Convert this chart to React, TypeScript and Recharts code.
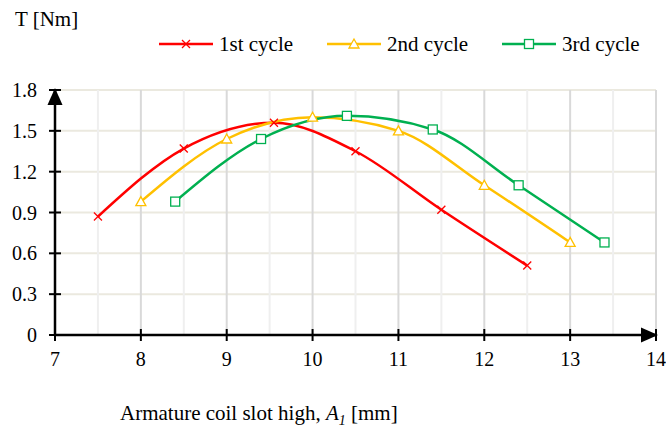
import React from 'react';
import {
  LineChart,
  Line,
  XAxis,
  YAxis,
  CartesianGrid,
  ReferenceLine,
  Label,
} from 'recharts';

const xTicks = [7, 8, 9, 10, 11, 12, 13, 14];
const xMinor = [7.5, 8.5, 9.5, 10.5, 11.5, 12.5, 13.5];
const yTicks = [0, 0.3, 0.6, 0.9, 1.2, 1.5, 1.8];

const cycle1X = [7.5, 8.5, 9.55, 10.5, 11.5, 12.5];
const cycle1T = [0.87, 1.37, 1.56, 1.35, 0.92, 0.51];
const cycle2X = [8, 9, 10, 11, 12, 13];
const cycle2T = [0.98, 1.44, 1.6, 1.5, 1.1, 0.68];
const cycle3X = [8.4, 9.4, 10.4, 11.4, 12.4, 13.4];
const cycle3T = [0.98, 1.44, 1.61, 1.51, 1.1, 0.68];

const toRows = (xs: number[], ys: number[]) => xs.map((x, i) => ({ x, t: ys[i] }));

const RED = '#ff0000';
const YELLOW = '#ffc000';
const GREEN = '#00b050';
const FONT = "'Liberation Serif', Tinos, 'DejaVu Serif', 'Noto Serif', serif";

const TICK_SIZE = 5;
const TICK_MARGIN = 4;

const Cross = ({ cx, cy }: any) => (
  <g>
    <line x1={cx - 4} y1={cy - 4} x2={cx + 4} y2={cy + 4} stroke={RED} strokeWidth={1.3} />
    <line x1={cx - 4} y1={cy + 4} x2={cx + 4} y2={cy - 4} stroke={RED} strokeWidth={1.3} />
  </g>
);
const Tri = ({ cx, cy }: any) => (
  <polygon
    points={`${cx},${cy - 5} ${cx - 5},${cy + 4} ${cx + 5},${cy + 4}`}
    fill="#fff"
    stroke={YELLOW}
    strokeWidth={1.3}
  />
);
const Sq = ({ cx, cy }: any) => (
  <rect x={cx - 4.5} y={cy - 4.5} width={9} height={9} fill="#fff" stroke={GREEN} strokeWidth={1.3} />
);

const series = [
  { name: '1st cycle', color: RED, data: toRows(cycle1X, cycle1T), Marker: Cross },
  { name: '2nd cycle', color: YELLOW, data: toRows(cycle2X, cycle2T), Marker: Tri },
  { name: '3rd cycle', color: GREEN, data: toRows(cycle3X, cycle3T), Marker: Sq },
];

const YTick = ({ x, y, payload }: any) => {
  const ax = x + TICK_SIZE + TICK_MARGIN;
  return (
    <g>
      <line x1={ax - 6} x2={ax + 6} y1={y} y2={y} stroke="#000" strokeWidth={2} />
      <text x={ax - 18} y={y} dy="0.35em" textAnchor="end" fontSize={20} style={{ fontFamily: FONT }} fill="#000">
        {payload.value}
      </text>
    </g>
  );
};

const XTick = ({ x, y, payload }: any) => {
  const ay = y - TICK_SIZE - TICK_MARGIN;
  return (
    <g>
      <line x1={x} x2={x} y1={ay - 6} y2={ay + 6} stroke="#000" strokeWidth={2} />
      <text x={x} y={ay + 24} dy="0.35em" textAnchor="middle" fontSize={20} style={{ fontFamily: FONT }} fill="#000">
        {payload.value}
      </text>
    </g>
  );
};

const YArrow = ({ viewBox }: any) => {
  const tx = viewBox.x + viewBox.width;
  const ty = viewBox.y - 2;
  return <polygon points={`${tx},${ty} ${tx - 7.5},${ty + 17} ${tx + 7.5},${ty + 17}`} fill="#000" />;
};

const XArrow = ({ viewBox }: any) => {
  const tx = viewBox.x + viewBox.width + 2;
  const ty = viewBox.y;
  return <polygon points={`${tx},${ty} ${tx - 17},${ty - 7.5} ${tx - 17},${ty + 7.5}`} fill="#000" />;
};

const ChartLegend = () => (
  <div style={{ position: 'absolute', left: 159, top: 32, display: 'flex', fontSize: 21, lineHeight: '24px', whiteSpace: 'nowrap', width: 507 }}>
    {series.map((s) => (
      <div key={s.name} style={{ display: 'flex', alignItems: 'center', marginRight: 34, flexShrink: 0 }}>
        <svg width={54} height={14} style={{ marginRight: 6 }}>
          <line x1={0} x2={54} y1={7} y2={7} stroke={s.color} strokeWidth={2.5} />
          <s.Marker cx={27} cy={7} />
        </svg>
        <span>{s.name}</span>
      </div>
    ))}
  </div>
);

export default function App() {
  return (
    <div style={{ position: 'absolute', left: 0, top: 0, width: 666, height: 430, background: '#fff', fontFamily: FONT, color: '#000' }}>
      <LineChart width={666} height={430} margin={{ top: 90, right: 10, bottom: 65, left: 0 }}>
        <CartesianGrid vertical={false} stroke="#ebe9df" strokeWidth={2} />
        {xMinor.map((v) => (
          <ReferenceLine key={'m' + v} x={v} stroke="#efefef" strokeWidth={2} />
        ))}
        {xTicks.slice(1).map((v) => (
          <ReferenceLine key={'M' + v} x={v} stroke="#d9d9d9" strokeWidth={2} />
        ))}
        <XAxis
          type="number"
          dataKey="x"
          domain={[7, 14]}
          ticks={xTicks}
          interval={0}
          height={30}
          tickSize={TICK_SIZE}
          tickMargin={TICK_MARGIN}
          tickLine={false}
          tick={<XTick />}
          axisLine={{ stroke: '#000', strokeWidth: 2.5 }}
        >
          <Label content={<XArrow />} />
        </XAxis>
        <YAxis
          type="number"
          domain={[0, 1.8]}
          ticks={yTicks}
          interval={0}
          width={55}
          tickSize={TICK_SIZE}
          tickMargin={TICK_MARGIN}
          tickLine={false}
          tick={<YTick />}
          axisLine={{ stroke: '#000', strokeWidth: 2.5 }}
        >
          <Label content={<YArrow />} />
        </YAxis>
        {series.map((s) => (
          <Line
            key={s.name}
            name={s.name}
            data={s.data}
            dataKey="t"
            type="monotone"
            stroke={s.color}
            strokeWidth={2.5}
            dot={(p: any) => <s.Marker key={p.index} cx={p.cx} cy={p.cy} />}
            activeDot={false}
            isAnimationActive={false}
          />
        ))}
      </LineChart>
      <div style={{ position: 'absolute', left: 15, top: 7, fontSize: 21 }}>T [Nm]</div>
      <ChartLegend />
      <div style={{ position: 'absolute', left: 120, top: 401, fontSize: 21, whiteSpace: 'nowrap' }}>
        Armature coil slot high, <i>A</i>
        <sub style={{ fontStyle: 'italic', fontSize: 14 }}>1</sub> [mm]
      </div>
    </div>
  );
}
